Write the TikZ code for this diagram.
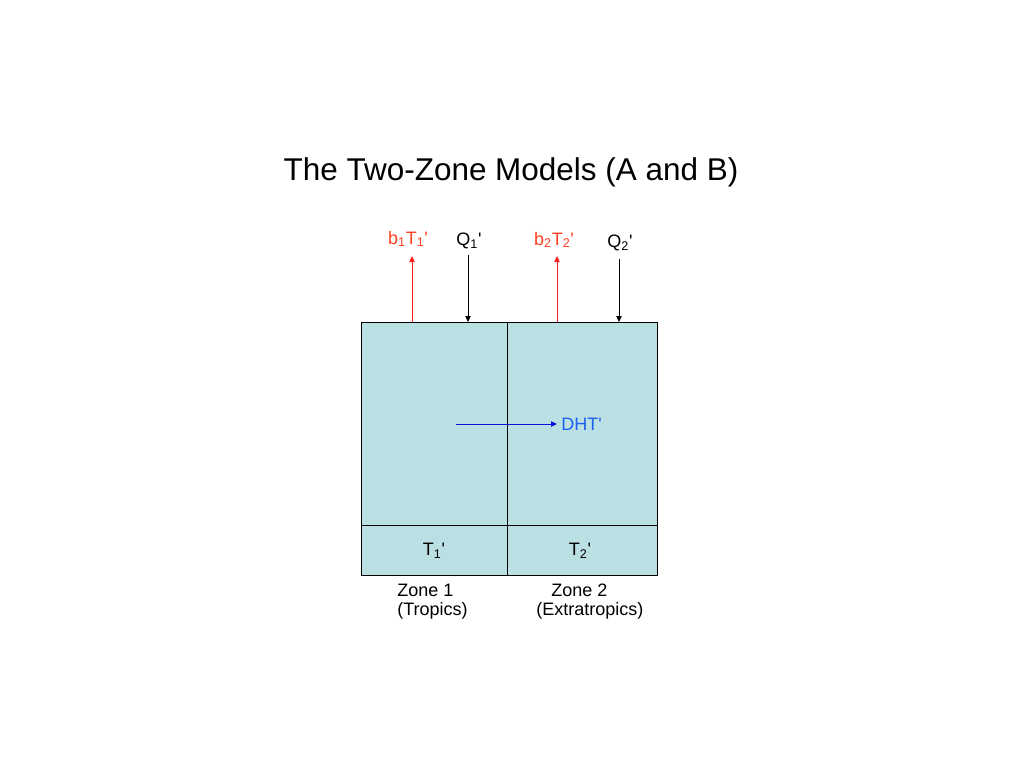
\documentclass[tikz,border=0pt]{standalone}
\usepackage{fontspec}
\setmainfont{Liberation Sans}
\usetikzlibrary{arrows.meta}
\definecolor{zonefill}{HTML}{BBE0E3}
\definecolor{fluxred}{HTML}{FF2020}
\definecolor{labred}{HTML}{FF4020}
\definecolor{dhtblue}{HTML}{1010E0}
\definecolor{dhtlab}{HTML}{2060F0}
\newcommand{\pr}{\textquotesingle}
\tikzset{
  lab/.style={font=\fontsize{13.5pt}{15pt}\selectfont, inner sep=0pt},
  fluxup/.style={draw=fluxred, line width=0.75pt, -{Triangle[length=4.5pt,width=4pt]}},
  fluxdown/.style={draw=black, line width=0.75pt, -{Triangle[length=4.5pt,width=4pt]}},
  cell/.style={draw=black, line width=0.75pt, fill=zonefill},
}
\begin{document}
\begin{tikzpicture}[x=0.75pt,y=-0.75pt]
\useasboundingbox[fill=white] (0,0) rectangle (1024,768);
% title
\node[font=\fontsize{23.6pt}{28pt}\selectfont, inner sep=0pt] (title) at (511,172) {The Two-Zone Models (A and B)};
% cells
\draw[cell] (361,322) rectangle (507,525);
\draw[cell] (507,322) rectangle (657,525);
\draw[cell] (361,525) rectangle (507,575);
\draw[cell] (507,525) rectangle (657,575);
% coordinates
\coordinate (u1b) at (412,322); \coordinate (u1t) at (412,256);
\coordinate (d1t) at (468,255); \coordinate (d1b) at (468,322);
\coordinate (u2b) at (557,322); \coordinate (u2t) at (557,256);
\coordinate (d2t) at (619,259); \coordinate (d2b) at (619,322);
\coordinate (hs) at (456,424); \coordinate (he) at (557,424);
\draw[fluxup] (u1b) -- (u1t);
\draw[fluxdown] (d1t) -- (d1b);
\draw[fluxup] (u2b) -- (u2t);
\draw[fluxdown] (d2t) -- (d2b);
\draw[draw=dhtblue, line width=0.75pt, -{Triangle[length=4.5pt,width=4pt]}] (hs) -- (he);
% labels
\node[lab, text=labred] (b1) at (408,239) {b\textsubscript{1}T\textsubscript{1}\pr};
\node[lab] (q1) at (469,241) {Q\textsubscript{1}\pr};
\node[lab, text=labred] (b2) at (554,240) {b\textsubscript{2}T\textsubscript{2}\pr};
\node[lab] (q2) at (620,243) {Q\textsubscript{2}\pr};
\node[lab, text=dhtlab, anchor=west] (dht) at (561,424) {DHT\pr};
\node[lab] (t1) at (434,551) {T\textsubscript{1}\pr};
\node[lab] (t2) at (580,551) {T\textsubscript{2}\pr};
\node[lab, anchor=west] (z1) at (397,590) {Zone 1};
\node[lab, anchor=west] (z1b) at (397,611) {(Tropics)};
\node[lab, anchor=west] (z2) at (551,590) {Zone 2};
\node[lab, anchor=west] (z2b) at (536,611) {(Extratropics)};
\end{tikzpicture}
\end{document}
